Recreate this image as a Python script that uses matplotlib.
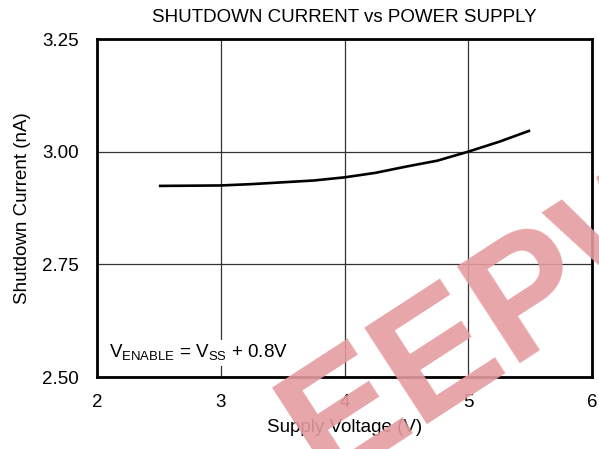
import numpy as np
import matplotlib.pyplot as plt

plt.rcParams['font.family'] = ['Liberation Sans', 'DejaVu Sans']

# data
supply_v = [2.5, 3.0, 3.25, 3.5, 3.75, 4.0, 4.25, 4.5, 4.75, 5.0, 5.25, 5.5]
shutdown_na = [2.924, 2.925, 2.928, 2.932, 2.936, 2.943, 2.953, 2.967, 2.980, 3.000, 3.022, 3.047]
x_ticks = [2, 3, 4, 5, 6]
y_ticks = [2.50, 2.75, 3.00, 3.25]

fig = plt.figure(figsize=(5.99, 4.49), dpi=100)
ax = fig.add_axes([97/599, 1 - 377/449, (592-97)/599, (377-39)/449])

ax.plot(supply_v, shutdown_na, color='black', lw=1.9, solid_capstyle='butt',
        solid_joinstyle='round', zorder=3)

ax.set_xlim(2, 6)
ax.set_ylim(2.50, 3.25)
ax.set_xticks(x_ticks)
ax.set_yticks(y_ticks)
ax.set_yticklabels([f'{v:.2f}' for v in y_ticks])
ax.tick_params(length=0, labelsize=13.5)
ax.tick_params(axis='y', pad=13)
ax.tick_params(axis='x', pad=12)
ax.grid(True, color='#333333', lw=0.9)
for s in ax.spines.values():
    s.set_linewidth(2)

ax.set_xlabel('Supply Voltage (V)', fontsize=13.5, labelpad=6)
ax.set_ylabel('Shutdown Current (nA)', fontsize=13.5, labelpad=8)
ax.set_title('SHUTDOWN CURRENT vs POWER SUPPLY', fontsize=13.5, pad=12)

ax.text(0.025, 0.07, r'V$_{\mathregular{ENABLE}}$ = V$_{\mathregular{SS}}$ + 0.8V', transform=ax.transAxes,
        fontsize=13.5, ha='left', va='center', zorder=4,
        bbox=dict(facecolor='white', edgecolor='none', pad=2))

# watermark
fig.text(0.845, 0.30, 'EEPW', rotation=33, color='#e59ca0', alpha=0.9, fontsize=120,
         fontweight='bold', ha='center', va='center', zorder=10)

fig.savefig('out.png', dpi=100)
